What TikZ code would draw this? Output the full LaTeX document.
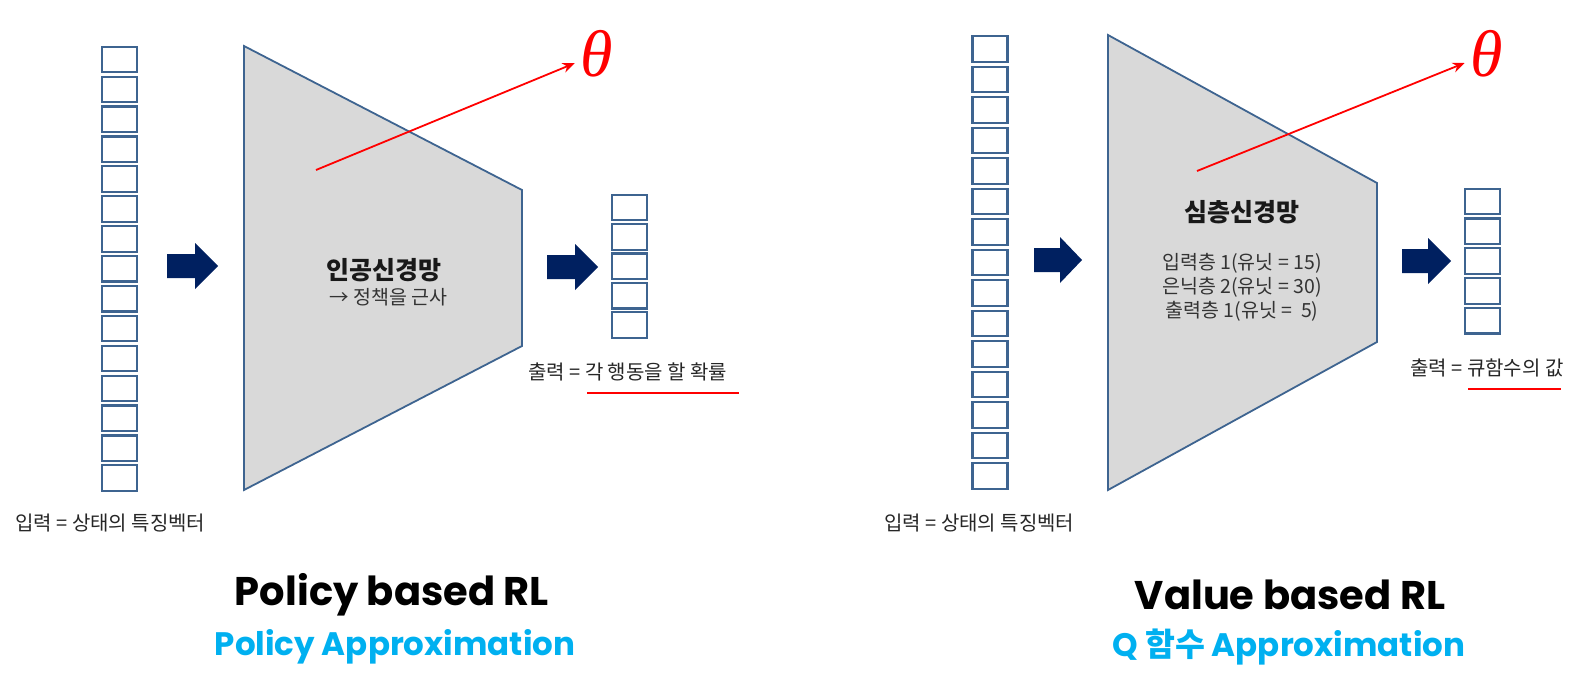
\documentclass[tikz,border=0pt]{standalone}
\usepackage{fontspec}
\setmainfont{Liberation Serif}
\newfontfamily\kr{Noto Sans CJK KR}
\newfontfamily\titlefont{Poppins}
\usetikzlibrary{arrows.meta, calc}

\definecolor{boxblue}{HTML}{3E6490}
\definecolor{netgray}{HTML}{D9D9D9}
\definecolor{navy}{HTML}{002060}
\definecolor{skyblue}{HTML}{00B0F0}

\begin{document}
\begin{tikzpicture}[x=1pt, y=-1pt,
            cell/.style={draw=boxblue, line width=2.2pt, fill=white, minimum width=35pt, minimum height=25.5pt, inner sep=0pt},
            net/.style={draw=boxblue, fill=netgray, line width=1.8pt, line join=miter},
            blockarrow/.style={fill=navy},
            paramarrow/.style={draw=red, line width=1.8pt, -{Stealth[length=12pt, width=10pt]}},
            theta/.style={text=red, font=\fontsize{66}{66}\selectfont\itshape, inner sep=6pt},
            iotext/.style={font=\kr\fontsize{20}{23}\selectfont, text=black!85, inner sep=0pt},
            nettitle/.style={font=\kr\bfseries\fontsize{25}{30}\selectfont, text=black!90},
            nettext/.style={font=\kr\fontsize{19.5}{24}\selectfont, text=black!80, align=center},
            underline/.style={draw=red, line width=2.8pt},
            title/.style={font=\titlefont\bfseries\fontsize{40}{46}\selectfont, text=black},
            subtitle/.style={font=\titlefont\bfseries\fontsize{32.5}{38}\selectfont, text=skyblue}
        ]
            \useasboundingbox (0,0) rectangle (1587,674);

            % networks
            \draw[net] (244,46) -- (522,190) -- (522,346) -- (244,490) -- cycle;
            \draw[net] (1108,35) -- (1377,183) -- (1377,342) -- (1108,490) -- cycle;

            % input and output vectors
            \foreach \i in {1,...,15} {
                \node[cell] (inL\i) at (119.5, {45+14.5+(\i-1)*29.9}) {};
                \node[cell] (inR\i) at (990, {34+15+(\i-1)*30.5}) {};
            }
            \foreach \i in {1,...,5} {
                \node[cell] (outL\i) at (629.5, {193+14.5+(\i-1)*29.4}) {};
                \node[cell] (outR\i) at (1482.5, {187+14.5+(\i-1)*29.8}) {};
            }

            % block arrows
            \fill[blockarrow] (167,254) -- (195,254) -- (195,243) -- (218,266) -- (195,289) -- (195,278) -- (167,278) -- cycle;
            \fill[blockarrow] (547,255) -- (575,255) -- (575,244) -- (598,267) -- (575,290) -- (575,279) -- (547,279) -- cycle;
            \fill[blockarrow] (1034,248) -- (1060,248) -- (1060,237) -- (1082,260) -- (1060,283) -- (1060,272) -- (1034,272) -- cycle;
            \fill[blockarrow] (1402,249) -- (1428,249) -- (1428,238) -- (1451,261) -- (1428,284) -- (1428,273) -- (1402,273) -- cycle;

            % parameters
            \coordinate (startL) at (316,170);
            \coordinate (startR) at (1197,171);
            \node[theta] (thetaL) at (597,54) {θ};
            \node[theta] (thetaR) at (1487,54) {θ};
            \draw[paramarrow] (startL) -- (thetaL);
            \draw[paramarrow] (startR) -- (thetaR);

            % texts in the networks
            \node[nettitle] (annL) at (384,270) {인공신경망};
            \node[nettext, anchor=west] (annLsub) at (326,297) {→ 정책을 근사};
            \node[nettitle] (dnnR) at (1242,212) {심층신경망};
            \node[nettext] (dnnRsub) at (1242,287) {입력층 1(유닛 = 15)\\은닉층 2(유닛 = 30)\\출력층 1(유닛 = \ 5)};

            % input and output labels
            \node[iotext, anchor=west] (inLtext) at (15,523) {입력 = 상태의 특징벡터};
            \node[iotext, anchor=west] (outLtext) at (528,372) {출력 = 각 행동을 할 확률};
            \node[iotext, anchor=west] (inRtext) at (884,523) {입력 = 상태의 특징벡터};
            \node[iotext, anchor=west] (outRtext) at (1410,368) {출력 = 큐함수의 값};
            \draw[underline] (587,393) -- (739,393);
            \draw[underline] (1468,389) -- (1561,389);

            % titles
            \node[title] (polTitle) at (392,595) {Policy based RL};
            \node[subtitle] (polSub) at (395,647) {Policy Approximation};
            \node[title] (valTitle) at (1290,595) {Value based RL};
            \node[subtitle] (valSub) at (1289,647) {Q {\kr\bfseries 함수} Approximation};
        \end{tikzpicture}
\end{document}
